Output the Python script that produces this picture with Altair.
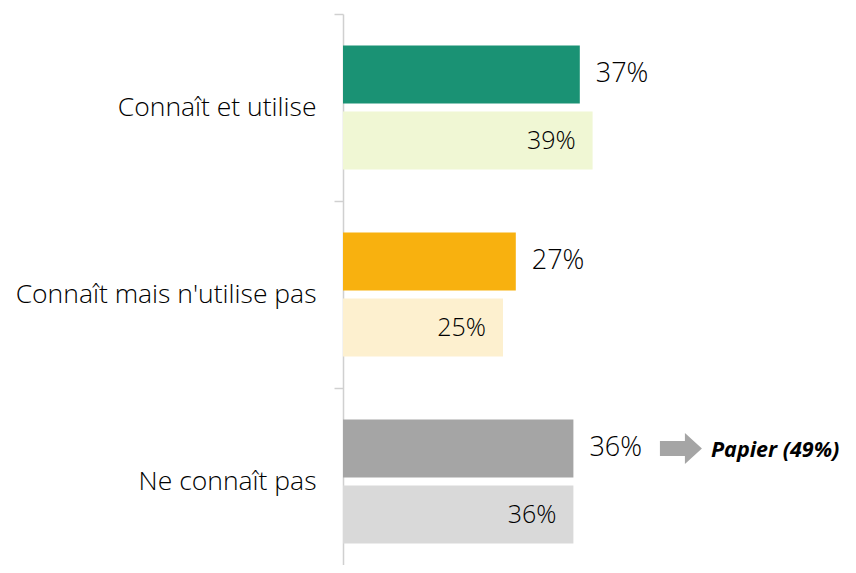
import altair as alt
import pandas as pd

categories = ["Connaît et utilise", "Connaît mais n'utilise pas", "Ne connaît pas"]
series = ["Série 1", "Série 2"]
values_s1 = [37, 27, 36]
values_s2 = [39, 25, 36]
labels_s1 = ["37%", "27%", "36%"]
labels_s2 = ["39%", "25%", "36%"]
colors_s1 = ["#1a9274", "#f8b10f", "#a5a5a5"]
colors_s2 = ["#f0f7d4", "#fdf0cf", "#d9d9d9"]
note_category = "Ne connaît pas"
note_text = "Papier (49%)"
note_arrow_x = 52.8
note_text_x = 57.5

rows = []
for i, c in enumerate(categories):
    rows.append({"cat": c, "series": series[0], "value": values_s1[i], "label": labels_s1[i], "key": c + "|" + series[0]})
    rows.append({"cat": c, "series": series[1], "value": values_s2[i], "label": labels_s2[i], "key": c + "|" + series[1]})
df = pd.DataFrame(rows)
keys = [r["key"] for r in rows]
cols = []
for i in range(len(categories)):
    cols += [colors_s1[i], colors_s2[i]]

FONT = "Open Sans"
xscale = alt.Scale(domain=[0, 505 / 6.4], nice=False, zero=True)
yenc = alt.Y("cat:N", sort=categories, title=None,
             scale=alt.Scale(paddingInner=0, paddingOuter=0, range=[0, 561]),
             axis=alt.Axis(tickBand="extent", tickSize=9, tickColor="#d0d0d0", tickWidth=1.5,
                           domainColor="#d0d0d0", domainWidth=1.5, labelPadding=18,
                           labelFont=FONT, labelFontSize=26.5, labelFontWeight=300,
                           labelColor="#000000", grid=False, labelLimit=400))
yoff = alt.YOffset("series:N", sort=series, scale=alt.Scale(paddingInner=0.121, paddingOuter=0.477))
xenc = alt.X("value:Q", scale=xscale, axis=None)

base = alt.Chart(df)
bars = base.mark_bar().encode(
    x=xenc, y=yenc, yOffset=yoff,
    color=alt.Color("key:N", scale=alt.Scale(domain=keys, range=cols), legend=None),
)
lab1 = base.transform_filter(alt.datum.series == series[0]).mark_text(
    align="left", baseline="middle", dx=16, font=FONT, fontSize=27, fontWeight=300, color="#000000"
).encode(x=xenc, y=yenc, yOffset=yoff, text="label:N")
lab2 = base.transform_filter(alt.datum.series == series[1]).mark_text(
    align="right", baseline="middle", dx=-17, font=FONT, fontSize=25, fontWeight=300, color="#000000"
).encode(x=xenc, y=yenc, yOffset=yoff, text="label:N")

note_df = pd.DataFrame([{"cat": note_category, "series": series[0], "ax": note_arrow_x, "tx": note_text_x, "t": note_text}])
nbase = alt.Chart(note_df)
arrow = nbase.mark_point(
    shape="M-1,-0.357L0.19,-0.357L0.19,-0.738L1,0L0.19,0.738L0.19,0.357L-1,0.357Z",
    filled=True, color="#a5a5a5", opacity=1, size=1764, strokeWidth=0,
).encode(x=alt.X("ax:Q", scale=xscale, axis=None), y=yenc, yOffset=yoff)
ntext = nbase.mark_text(
    align="left", baseline="middle", dy=3, font=FONT, fontSize=21.5, fontWeight="bold", fontStyle="italic", color="#000000"
).encode(x=alt.X("tx:Q", scale=xscale, axis=None), y=yenc, yOffset=yoff, text="t:N")

chart = alt.layer(bars, lab1, lab2, arrow, ntext).properties(
    width=505, height=551,
    autosize=alt.AutoSizeParams(type="none"),
    padding={"left": 335, "top": 6, "right": 0, "bottom": 0},
    background="white",
).configure_view(stroke=None)

chart.save("out.html", embed_options={"renderer": "svg", "actions": False})
